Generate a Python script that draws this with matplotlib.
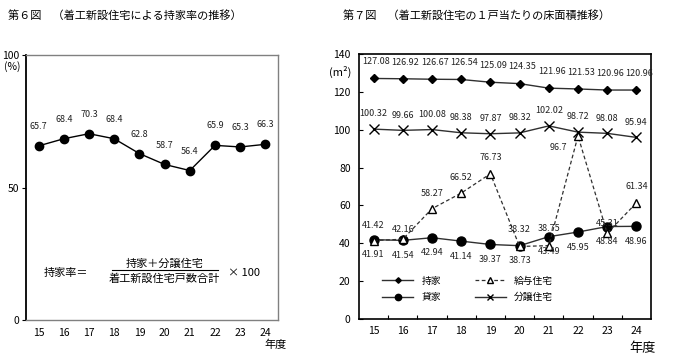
import matplotlib
matplotlib.use("Agg")
import matplotlib.pyplot as plt
import numpy as np

plt.rcParams['font.family'] = ['Noto Sans CJK JP', 'DejaVu Sans']

years = ["15", "16", "17", "18", "19", "20", "21", "22", "23", "24"]

# 第6図: 持家率 (%)
own_rate = [65.7, 68.4, 70.3, 68.4, 62.8, 58.7, 56.4, 65.9, 65.3, 66.3]

# 第7図: 1戸当たり床面積 (m2)
mochiie = [127.08, 126.92, 126.67, 126.54, 125.09, 124.35, 121.96, 121.53, 120.96, 120.96]
kashiya = [41.91, 41.54, 42.94, 41.14, 39.37, 38.73, 43.49, 45.95, 48.84, 48.96]
kyuyo = [41.42, 42.16, 58.27, 66.52, 76.73, 38.32, 38.75, 96.7, 45.31, 61.34]
bunjo = [100.32, 99.66, 100.08, 98.38, 97.87, 98.32, 102.02, 98.72, 98.08, 95.94]

LBL = dict(fontsize=6.5, color="#222222", ha="center", va="center")

fig = plt.figure(figsize=(6.73, 3.63), dpi=100)
x = np.arange(len(years))

# ---------------- left: 第6図 ----------------
ax1 = fig.add_axes([26 / 673, 1 - 320 / 363, 252 / 673, 265 / 363])
ax1.plot(x, own_rate, color="black", lw=1, marker="o", ms=6, mfc="black")
for xi, v in zip(x, own_rate):
    ax1.annotate(f"{v:.1f}", (xi, v), xytext=(0, 14), textcoords="offset points", **LBL)
ax1.set_xlim(-0.5, 9.5)
ax1.set_ylim(0, 100)
ax1.set_yticks([0, 50, 100])
ax1.set_xticks(x)
ax1.set_xticklabels(years, fontsize=7.5)
ax1.tick_params(axis="x", length=0, pad=6)
ax1.tick_params(axis="y", length=3, direction="out", labelsize=7.5, pad=2)
for s in ("top", "right", "bottom"):
    ax1.spines[s].set_color("#808080")
    ax1.spines[s].set_linewidth(1)
ax1.spines["left"].set_color("black")
ax1.spines["left"].set_linewidth(1.3)
ax1.text(-0.055, 0.955, "(%)", transform=ax1.transAxes, fontsize=7.5, ha="center", va="center")
ax1.text(0.99, -0.095, "年度", transform=ax1.transAxes, fontsize=8, ha="center", va="center")

# formula
ax1.text(0.07, 0.177, "持家率＝", transform=ax1.transAxes, fontsize=8, ha="left", va="center")
ax1.text(0.55, 0.213, "持家＋分譲住宅", transform=ax1.transAxes, fontsize=8, ha="center", va="center")
ax1.plot([0.34, 0.76], [0.189, 0.189], transform=ax1.transAxes, color="black", lw=0.8)
ax1.text(0.55, 0.155, "着工新設住宅戸数合計", transform=ax1.transAxes, fontsize=8, ha="center", va="center")
ax1.text(0.80, 0.178, "× 100", transform=ax1.transAxes, fontsize=8, ha="left", va="center")

fig.text(8 / 673, 1 - 15 / 363, "第６図　（着工新設住宅による持家率の推移）", fontsize=8, ha="left", va="center")

# ---------------- right: 第7図 ----------------
ax2 = fig.add_axes([359 / 673, 1 - 319 / 363, 292 / 673, 265 / 363])
line_c = "#303030"
ax2.plot(x, mochiie, color=line_c, lw=1, marker="D", ms=4, mfc="black", mec="black", label="持家")
ax2.plot(x, kashiya, color=line_c, lw=1, marker="o", ms=6.5, mfc="black", mec="black", label="貸家")
ax2.plot(x, kyuyo, color=line_c, lw=0.9, ls=(0, (3, 2)), marker="^", ms=6, mfc="white", mec="black", label="給与住宅")
ax2.plot(x, bunjo, color=line_c, lw=1, marker="x", ms=6.5, mec="black", mew=1, label="分譲住宅")

for xi, v in zip(x, mochiie):
    ax2.annotate(f"{v:.2f}", (xi, v), xytext=(2, 12), textcoords="offset points", **LBL)
for xi, v in zip(x, bunjo):
    ax2.annotate(f"{v:.2f}", (xi, v), xytext=(0, 11), textcoords="offset points", **LBL)
for xi, v in zip(x, kashiya):
    ax2.annotate(f"{v:.2f}", (xi, v), xytext=(0, -11), textcoords="offset points", **LBL)
kyuyo_off = [(0, 11), (0, 7), (0, 11), (0, 11), (0, 12), (0, 12), (0, 12), (-14, -8), (0, 7), (0, 12)]
for xi, v, off in zip(x, kyuyo, kyuyo_off):
    txt = f"{v:.2f}" if xi != 7 else f"{v:.1f}"
    ax2.annotate(txt, (xi, v), xytext=off, textcoords="offset points", **LBL)

ax2.set_xlim(-0.5, 9.5)
ax2.set_ylim(0, 140)
ax2.set_yticks(np.arange(0, 141, 20))
ax2.set_xticks(np.arange(0.5, 9, 1))
ax2.set_xticklabels([])
ax2.set_xticks(x, minor=True)
ax2.set_xticklabels(years, minor=True, fontsize=7.5)
ax2.tick_params(axis="x", which="major", direction="in", length=3)
ax2.tick_params(axis="x", which="minor", length=0, pad=5)
ax2.tick_params(axis="y", direction="in", length=3, labelsize=7.5, pad=6)
for s in ax2.spines.values():
    s.set_color("black")
    s.set_linewidth(1.2)
ax2.text(-0.065, 0.932, "(m²)", transform=ax2.transAxes, fontsize=8, ha="center", va="center")
ax2.text(0.97, -0.11, "年度", transform=ax2.transAxes, fontsize=9.5, ha="center", va="center")
ax2.legend(loc="lower left", bbox_to_anchor=(0.05, 0.03), ncol=2, frameon=False,
           fontsize=7, handlelength=3.2, columnspacing=3.5, labelspacing=0.7, markerscale=0.7)

fig.text(343 / 673, 1 - 15 / 363, "第７図　（着工新設住宅の１戸当たりの床面積推移）", fontsize=8, ha="left", va="center")

fig.savefig("out.png", dpi=100)
